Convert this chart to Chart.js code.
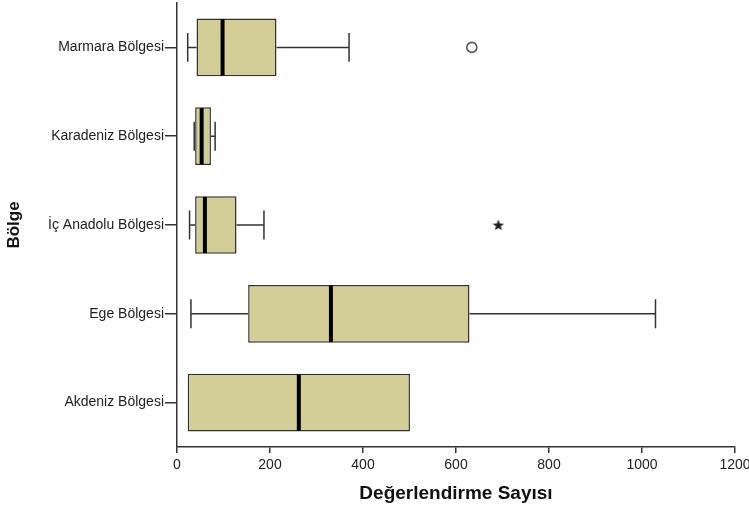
<!DOCTYPE html>
<html>
<head>
<meta charset="utf-8">
<script src="https://cdn.jsdelivr.net/npm/chart.js@4/dist/chart.umd.min.js"></script>
<style>
    html, body { margin: 0; padding: 0; background: #fff; }
    #wrap { width: 749px; height: 508px; }
</style>
</head>
<body>
<div id="wrap"><canvas id="chart" width="749" height="508"></canvas></div>
<script>
'use strict';

// Regions top to bottom, as on the value axis of the original plot
const regions = ['Marmara Bölgesi', 'Karadeniz Bölgesi', 'İç Anadolu Bölgesi', 'Ege Bölgesi', 'Akdeniz Bölgesi'];
const whiskerLow = [23, 37, 27, 30, 23];
const quartile1 = [42, 39, 39, 153, 23];
const medians = [98, 53, 60, 331, 262];
const quartile3 = [214, 73, 128, 629, 501];
const whiskerHigh = [370, 82, 187, 1029, 501];
// outliers (o) and extreme values (*)
const outliers = [{region: 'Marmara Bölgesi', value: 634}];
const extremes = [{region: 'İç Anadolu Bölgesi', value: 691}];
const xTicks = [0, 200, 400, 600, 800, 1000, 1200];

const boxFill = '#d3ce97';
const lineColor = '#333';

function starImage(size) {
    const c = document.createElement('canvas');
    c.width = c.height = size;
    const ctx = c.getContext('2d');
    const cx = size / 2, cy = size / 2 + 0.5;
    const outer = size / 2, inner = outer * 0.42;
    ctx.beginPath();
    for (let i = 0; i < 10; i++) {
        const r = i % 2 ? inner : outer;
        const a = -Math.PI / 2 + i * Math.PI / 5;
        ctx.lineTo(cx + r * Math.cos(a), cy + r * Math.sin(a));
    }
    ctx.closePath();
    ctx.fillStyle = '#222';
    ctx.fill();
    return c;
}

// whiskers go under the boxes, medians on top of them
const boxPlotLines = {
    id: 'boxPlotLines',
    beforeDatasetsDraw(chart) {
        const {ctx, scales: {x, y}} = chart;
        const bars = chart.getDatasetMeta(0).data;
        ctx.save();
        ctx.strokeStyle = lineColor;
        ctx.lineWidth = 1.5;
        const whisker = (from, to, cy, half) => {
            if (from === to) return;
            ctx.beginPath();
            ctx.moveTo(x.getPixelForValue(from), cy);
            ctx.lineTo(x.getPixelForValue(to), cy);
            ctx.moveTo(x.getPixelForValue(to), cy - half);
            ctx.lineTo(x.getPixelForValue(to), cy + half);
            ctx.stroke();
        };
        regions.forEach((r, i) => {
            const cy = y.getPixelForValue(i);
            const half = bars[i].height / 4;
            whisker(quartile1[i], whiskerLow[i], cy, half);
            whisker(quartile3[i], whiskerHigh[i], cy, half);
        });
        ctx.restore();
    },
    afterDatasetsDraw(chart) {
        const {ctx, scales: {x, y}} = chart;
        const bars = chart.getDatasetMeta(0).data;
        ctx.save();
        ctx.strokeStyle = '#000';
        ctx.lineWidth = 4;
        regions.forEach((r, i) => {
            const cy = y.getPixelForValue(i);
            const half = bars[i].height / 2 - 0.75;
            const mx = x.getPixelForValue(medians[i]);
            ctx.beginPath();
            ctx.moveTo(mx, cy - half);
            ctx.lineTo(mx, cy + half);
            ctx.stroke();
        });
        ctx.restore();
    }
};

const font = "Arial, 'Liberation Sans', sans-serif";

new Chart(document.getElementById('chart'), {
    type: 'bar',
    data: {
        labels: regions,
        datasets: [{
            type: 'bar',
            data: regions.map((r, i) => [quartile1[i], quartile3[i]]),
            backgroundColor: boxFill,
            borderColor: lineColor,
            borderWidth: 1.5,
            borderSkipped: false,
            barPercentage: 0.65,
            categoryPercentage: 1,
        }, {
            type: 'scatter',
            data: outliers.map(o => ({x: o.value, y: o.region})),
            pointStyle: 'circle',
            pointRadius: 5,
            borderColor: '#555',
            borderWidth: 1.6,
            backgroundColor: 'rgba(0,0,0,0)',
        }, {
            type: 'scatter',
            data: extremes.map(o => ({x: o.value, y: o.region})),
            pointStyle: starImage(12),
            pointRadius: 6,
        }]
    },
    options: {
        indexAxis: 'y',
        responsive: false,
        animation: false,
        layout: {autoPadding: false, padding: {top: 3, right: 14, left: 0, bottom: 0}},
        plugins: {legend: {display: false}, tooltip: {enabled: false}},
        scales: {
            x: {
                type: 'linear',
                min: 0,
                max: 1200,
                afterBuildTicks: s => { s.ticks = xTicks.map(v => ({value: v})); },
                afterFit: s => {
                    s.height = 61;
                    s.paddingLeft = 0;
                    s.paddingRight = 0;
                },
                grid: {drawOnChartArea: false, tickLength: 6, color: lineColor, lineWidth: 1.5},
                border: {color: lineColor, width: 1.5},
                ticks: {
                    color: '#222',
                    font: {family: font, size: 14},
                    padding: 4,
                    maxRotation: 0,
                    callback: v => String(v)
                },
                title: {
                    display: true,
                    text: 'Değerlendirme Sayısı',
                    color: '#111',
                    font: {family: font, size: 19, weight: 'bold'},
                    padding: {top: 0, bottom: 3}
                }
            },
            y: {
                type: 'category',
                offset: true,
                afterFit: s => {
                    s.width = 177;
                    s.paddingTop = 0;
                    s.paddingBottom = 0;
                },
                grid: {drawOnChartArea: false, offset: false, tickLength: 12, color: lineColor, lineWidth: 1.5},
                border: {color: lineColor, width: 1.5},
                ticks: {color: '#222', font: {family: font, size: 14}, padding: 1},
                title: {
                    display: true,
                    text: 'Bölge',
                    color: '#111',
                    font: {family: font, size: 17, weight: 'bold'},
                    padding: {top: 4, bottom: 0}
                }
            }
        }
    },
    plugins: [boxPlotLines]
});
</script>
</body>
</html>
